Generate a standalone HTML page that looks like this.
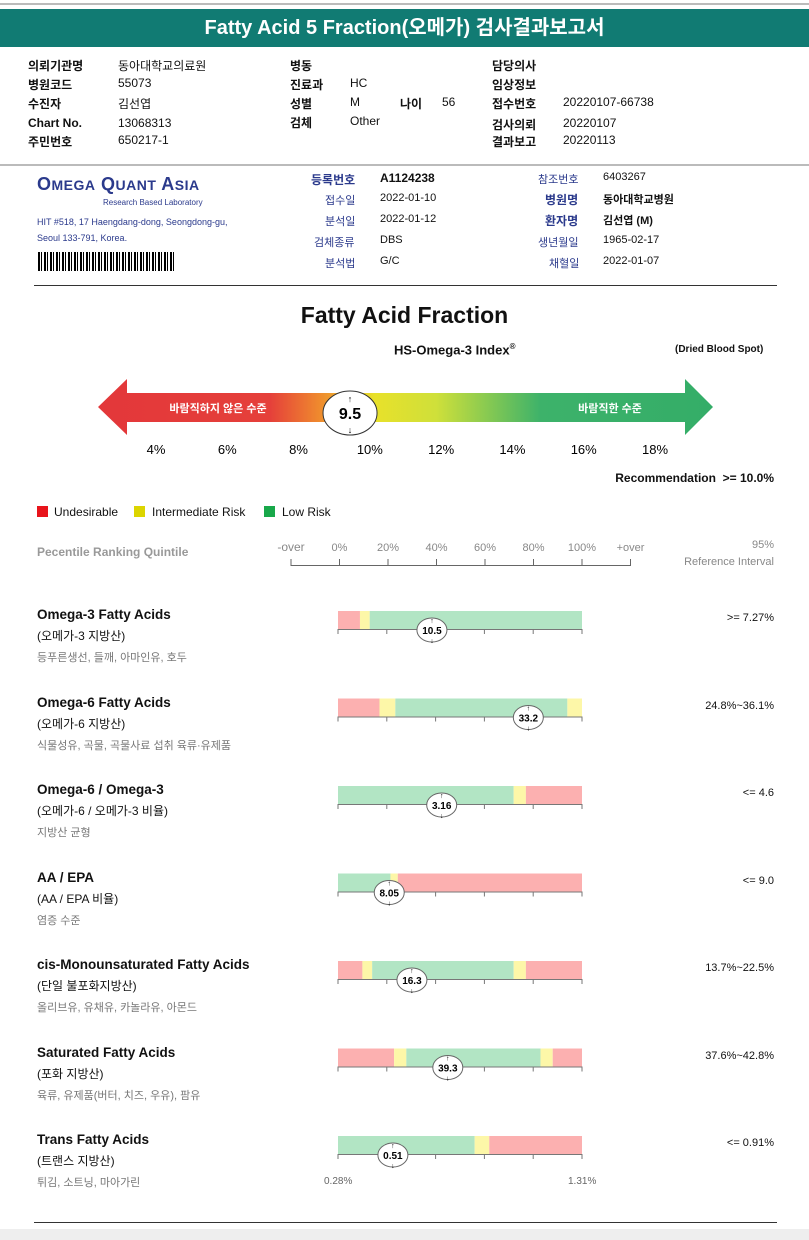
<!DOCTYPE html>
<html><head><meta charset="utf-8">
<style>
*{margin:0;padding:0;box-sizing:border-box}
body{width:809px;height:1240px;background:#fff;position:relative;overflow:hidden;font-family:"Liberation Sans","Noto Sans CJK KR",sans-serif;color:#111}
.a{position:absolute;white-space:nowrap}
.lb{font-size:12px;font-weight:bold}
.v{font-size:12px}
.s{font-size:11px}
.g{color:#555}
.t{font-size:13.5px;font-weight:bold}
.k{font-size:12px}
.d{font-size:11px;color:#777}
</style></head><body>
<div class="a" style="left:0;top:3px;width:809px;height:2px;background:#bbb"></div>
<div class="a" style="left:0;top:9px;width:809px;height:38px;background:#117b73;color:#fff;font-size:20px;font-weight:bold;text-align:center;line-height:38px">Fatty Acid 5 Fraction(오메가) 검사결과보고서</div>

<div>
<div class="a lb" style="left:28px;top:57px">의뢰기관명</div><div class="a v" style="left:118px;top:57px">동아대학교의료원</div>
<div class="a lb" style="left:28px;top:76px">병원코드</div><div class="a v" style="left:118px;top:76px">55073</div>
<div class="a lb" style="left:28px;top:95px">수진자</div><div class="a v" style="left:118px;top:95px">김선엽</div>
<div class="a lb" style="left:28px;top:116px">Chart No.</div><div class="a v" style="left:118px;top:116px">13068313</div>
<div class="a lb" style="left:28px;top:133px">주민번호</div><div class="a v" style="left:118px;top:133px">650217-1</div>
<div class="a lb" style="left:290px;top:57px">병동</div>
<div class="a lb" style="left:290px;top:76px">진료과</div><div class="a v" style="left:350px;top:76px">HC</div>
<div class="a lb" style="left:290px;top:95px">성별</div><div class="a v" style="left:350px;top:95px">M</div>
<div class="a lb" style="left:400px;top:95px">나이</div><div class="a v" style="left:442px;top:95px">56</div>
<div class="a lb" style="left:290px;top:114px">검체</div><div class="a v" style="left:350px;top:114px">Other</div>
<div class="a lb" style="left:492px;top:57px">담당의사</div>
<div class="a lb" style="left:492px;top:76px">임상정보</div>
<div class="a lb" style="left:492px;top:95px">접수번호</div><div class="a v" style="left:563px;top:95px">20220107-66738</div>
<div class="a lb" style="left:492px;top:116px">검사의뢰</div><div class="a v" style="left:563px;top:116px">20220107</div>
<div class="a lb" style="left:492px;top:133px">결과보고</div><div class="a v" style="left:563px;top:133px">20220113</div>
</div>
<div class="a" style="left:0;top:164px;width:809px;height:2px;background:#bbb"></div>

<div>
<div class="a" style="left:37px;top:174px;font-size:18px;font-weight:bold;color:#2b3a8c;letter-spacing:0.5px">O<span style="font-size:14px">MEGA</span> Q<span style="font-size:14px">UANT</span> A<span style="font-size:14px">SIA</span></div>
<div class="a" style="left:103px;top:198px;font-size:8px;color:#2b3a8c">Research Based Laboratory</div>
<div class="a" style="left:37px;top:217px;font-size:9px;color:#2b3a8c">HIT #518, 17 Haengdang-dong, Seongdong-gu,</div>
<div class="a" style="left:37px;top:233px;font-size:9px;color:#2b3a8c">Seoul 133-791, Korea.</div>
<div class="a" style="left:38px;top:252px;width:137px;height:19px;background:repeating-linear-gradient(90deg,#000 0 2px,#fff 2px 3px,#000 3px 4px,#fff 4px 6px)"></div>
</div>
<div>
<div class="a s" style="left:311px;top:171px;font-weight:bold;color:#2b3a8c;font-size:12px">등록번호</div><div class="a s" style="left:380px;top:171px;font-weight:bold;font-size:12px">A1124238</div>
<div class="a s" style="left:325px;top:192px;color:#2b3a8c">접수일</div><div class="a s" style="left:380px;top:192px">2022-01-10</div>
<div class="a s" style="left:325px;top:213px;color:#2b3a8c">분석일</div><div class="a s" style="left:380px;top:213px">2022-01-12</div>
<div class="a s" style="left:314px;top:234px;color:#2b3a8c">검체종류</div><div class="a s" style="left:380px;top:234px">DBS</div>
<div class="a s" style="left:325px;top:255px;color:#2b3a8c">분석법</div><div class="a s" style="left:380px;top:255px">G/C</div>
<div class="a s" style="left:538px;top:171px;color:#2b3a8c">참조번호</div><div class="a s" style="left:603px;top:171px">6403267</div>
<div class="a s" style="left:545px;top:191px;font-weight:bold;color:#2b3a8c;font-size:12px">병원명</div><div class="a s" style="left:603px;top:191px;font-weight:bold">동아대학교병원</div>
<div class="a s" style="left:545px;top:212px;font-weight:bold;color:#2b3a8c;font-size:12px">환자명</div><div class="a s" style="left:603px;top:212px;font-weight:bold">김선엽 (M)</div>
<div class="a s" style="left:538px;top:234px;color:#2b3a8c">생년월일</div><div class="a s" style="left:603px;top:234px">1965-02-17</div>
<div class="a s" style="left:549px;top:255px;color:#2b3a8c">채혈일</div><div class="a s" style="left:603px;top:255px">2022-01-07</div>
</div>
<div class="a" style="left:34px;top:285px;width:743px;height:1px;background:#333"></div>

<div class="a" style="left:0;top:302px;width:809px;text-align:center;font-size:23px;font-weight:bold">Fatty Acid Fraction</div>
<div class="a" style="left:394px;top:342px;font-size:13px;font-weight:bold">HS-Omega-3 Index<sup style="font-size:8px">®</sup></div>
<div class="a" style="left:675px;top:344px;font-size:10px;font-weight:bold">(Dried Blood Spot)</div>

<svg class="a" style="left:0;top:370px" width="809" height="100">
<defs><linearGradient id="gr" x1="98" x2="713" gradientUnits="userSpaceOnUse">
<stop offset="0" stop-color="#e3373a"/><stop offset="0.28" stop-color="#e5403a"/><stop offset="0.36" stop-color="#ef8a2e"/><stop offset="0.45" stop-color="#e8e12a"/><stop offset="0.55" stop-color="#cfe03a"/><stop offset="0.72" stop-color="#3db26a"/><stop offset="1" stop-color="#34ad68"/></linearGradient></defs>
<polygon points="98,37 127,9 127,23 685,23 685,9 713,37 685,65 685,52 127,52 127,65" fill="url(#gr)"/>
<text x="218" y="42" font-size="11" font-weight="bold" fill="#fff" text-anchor="middle" font-family="Liberation Sans,Noto Sans CJK KR,sans-serif">바람직하지 않은 수준</text>
<text x="610" y="42" font-size="11" font-weight="bold" fill="#fff" text-anchor="middle" font-family="Liberation Sans,Noto Sans CJK KR,sans-serif">바람직한 수준</text>
<g id="idxTicks"></g><g id="idxMarker"></g>
</svg>
<div class="a" style="left:606px;top:471px;width:168px;text-align:right;font-size:12px;font-weight:bold">Recommendation &nbsp;&gt;= 10.0%</div>

<div>
<div class="a" style="left:37px;top:506px;width:11px;height:11px;background:#e8141b"></div><div class="a k" style="left:54px;top:505px">Undesirable</div>
<div class="a" style="left:134px;top:506px;width:11px;height:11px;background:#dcd500"></div><div class="a k" style="left:152px;top:505px">Intermediate Risk</div>
<div class="a" style="left:264px;top:506px;width:11px;height:11px;background:#18a84a"></div><div class="a k" style="left:282px;top:505px">Low Risk</div>
</div>

<div class="a" style="left:37px;top:545px;font-size:12px;font-weight:bold;color:#999">Pecentile Ranking Quintile</div>
<div class="a" style="left:650px;top:537px;width:124px;text-align:right;font-size:11px;color:#888;line-height:17px">95%<br>Reference Interval</div>
<svg class="a" style="left:0;top:535px" width="809" height="40" id="axisSvg"></svg>

<svg class="a" style="left:0;top:590px" width="809" height="610" id="bars"></svg>

<div id="labels"></div>
<div class="a" style="left:324px;top:1176px;font-size:10px;color:#666">0.28%</div>
<div class="a" style="left:568px;top:1176px;font-size:10px;color:#666">1.31%</div>
<div class="a" style="left:34px;top:1222px;width:743px;height:1px;background:#333"></div>
<div class="a" style="left:0;top:1229px;width:809px;height:11px;background:#eee"></div>

<script>
const idxTicks=[4,6,8,10,12,14,16,18];
const idxValue=9.5;
const pctTicks=["-over","0%","20%","40%","60%","80%","100%","+over"];
const names=["Omega-3 Fatty Acids","Omega-6 Fatty Acids","Omega-6 / Omega-3","AA / EPA","cis-Monounsaturated Fatty Acids","Saturated Fatty Acids","Trans Fatty Acids"];
const subs=["(오메가-3 지방산)","(오메가-6 지방산)","(오메가-6 / 오메가-3 비율)","(AA / EPA 비율)","(단일 불포화지방산)","(포화 지방산)","(트랜스 지방산)"];
const descs=["등푸른생선, 들깨, 아마인유, 호두","식물성유, 곡물, 곡물사료 섭취 육류·유제품","지방산 균형","염증 수준","올리브유, 유채유, 카놀라유, 아몬드","육류, 유제품(버터, 치즈, 우유), 팜유","튀김, 소트닝, 마아가린"];
const refs=[">= 7.27%","24.8%~36.1%","<= 4.6","<= 9.0","13.7%~22.5%","37.6%~42.8%","<= 0.91%"];
const values=["10.5","33.2","3.16","8.05","16.3","39.3","0.51"];
// marker position in percentile (0-100)
const markerPct=[38.5,78,42.5,21,30.3,45,22.5];
// zone colors and boundaries (percentile)
const zoneColors=[["r","y","g"],["r","y","g","y"],["g","y","r"],["g","y","r"],["r","y","g","y","r"],["r","y","g","y","r"],["g","y","r"]];
const zoneBounds=[[0,9,13,100],[0,17,23.5,94,100],[0,72,77,100],[0,21.5,24.5,100],[0,10,14,72,77,100],[0,23,28,83,88,100],[0,56,62,100]];
const col={r:"#fcb0b0",y:"#fdf7a8",g:"#b2e5c4"};
const NS="http://www.w3.org/2000/svg";
function mk(p,t,a){const e=document.createElementNS(NS,t);for(const k in a)e.setAttribute(k,a[k]);p.appendChild(e);return e;}
// index axis
const ix=v=>156+(v-4)*(655-156)/14;
const it=document.getElementById('idxTicks');
idxTicks.forEach(v=>{const t=mk(it,'text',{x:ix(v),y:84,'font-size':13,'text-anchor':'middle','font-family':'Liberation Sans,sans-serif'});t.textContent=v+'%';

});
const im=document.getElementById('idxMarker');
const cx=ix(idxValue)-2;
mk(im,'ellipse',{cx:cx,cy:43,rx:27,ry:22,fill:'#fff',stroke:'#333','stroke-width':1});
const mt=mk(im,'text',{x:cx,y:49,'font-size':16,'font-weight':'bold','text-anchor':'middle','font-family':'Liberation Sans,sans-serif'});mt.textContent=idxValue;


mk(im,'text',{x:cx,y:32,'font-size':9,'text-anchor':'middle'}).textContent='↑';
mk(im,'text',{x:cx,y:63,'font-size':9,'text-anchor':'middle'}).textContent='↓';
// percentile axis
const ax=document.getElementById('axisSvg');
const px=i=>291+i*48.5;
pctTicks.forEach((l,i)=>{const t=mk(ax,'text',{x:px(i),y:16,'font-size':i==0?12:11,fill:'#888','text-anchor':'middle','font-family':'Liberation Sans,sans-serif'});t.textContent=l;


mk(ax,'line',{x1:px(i),x2:px(i),y1:24,y2:31,stroke:'#666'});});
mk(ax,'line',{x1:291,x2:630,y1:30.5,y2:30.5,stroke:'#666'});
// bars
const sv=document.getElementById('bars');
const bx=p=>338+p*2.44;
const lab=document.getElementById('labels');
names.forEach((n,i)=>{
 const y0=21+i*87.5;
 const g=mk(sv,'g',{});
 
 
 zoneColors[i].forEach((c,j)=>{const r=mk(g,'rect',{x:bx(zoneBounds[i][j]),y:y0,width:bx(zoneBounds[i][j+1])-bx(zoneBounds[i][j]),height:18,fill:col[c]});
 
 });
 mk(g,'line',{x1:338,x2:582,y1:y0+18.5,y2:y0+18.5,stroke:'#777'});
 for(let k=0;k<=5;k++)mk(g,'line',{x1:bx(k*20),x2:bx(k*20),y1:y0+18,y2:y0+23,stroke:'#777'});
 const mx=bx(markerPct[i]);
 mk(g,'ellipse',{cx:mx,cy:y0+19,rx:15,ry:12,fill:'#fff',stroke:'#666'});
 const vt=mk(g,'text',{x:mx,y:y0+23,'font-size':10,'font-weight':'bold','text-anchor':'middle','font-family':'Liberation Sans,sans-serif'});vt.textContent=values[i];
 
 
 mk(g,'text',{x:mx,y:y0+12,'font-size':7,'text-anchor':'middle'}).textContent='↑';
 mk(g,'text',{x:mx,y:y0+32,'font-size':7,'text-anchor':'middle'}).textContent='↓';
 const top=607+i*87.5;
 const d=document.createElement('div');
 
 
 d.innerHTML=`<div class="a t" style="left:37px;top:${top}px">${n}</div><div class="a k" style="left:37px;top:${top+20}px">${subs[i]}</div><div class="a d" style="left:37px;top:${top+42}px">${descs[i]}</div><div class="a s" style="left:620px;top:${top+5}px;width:154px;text-align:right">${refs[i].replace(/</g,'&lt;').replace(/>/g,'&gt;')}</div>`;
 lab.appendChild(d);
});
</script>
</body></html>
